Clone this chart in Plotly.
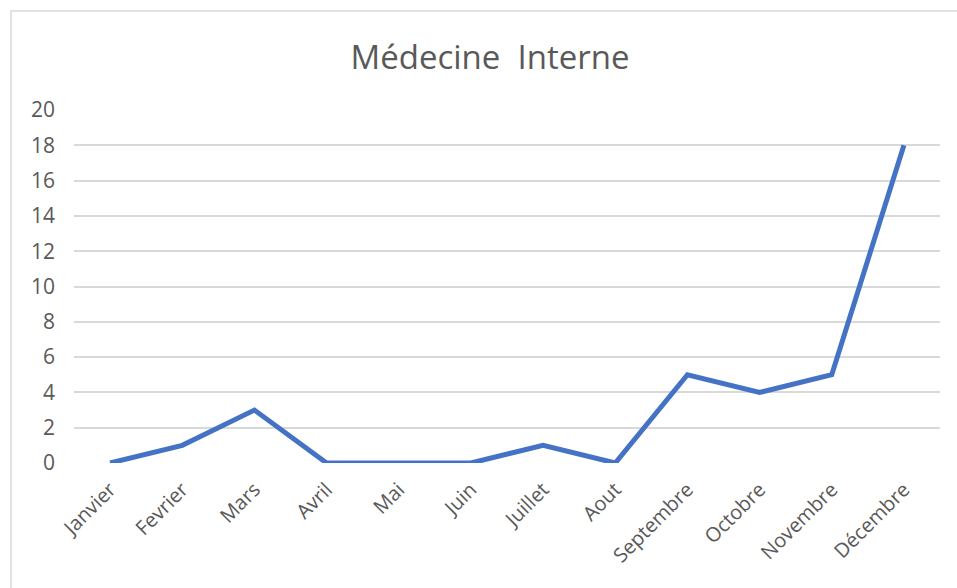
import plotly.graph_objects as go

# Monthly counts for the internal medicine department
months = ["Janvier", "Fevrier", "Mars", "Avril", "Mai", "Juin",
          "Juillet", "Aout", "Septembre", "Octobre", "Novembre", "Décembre"]
counts = [0, 1, 3, 0, 0, 0, 1, 0, 5, 4, 5, 18]
y_ticks = list(range(0, 21, 2))

W, H = 957, 588
L, R, T, B = 74, 17, 110, 125
pw, ph = W - L - R, H - T - B

fig = go.Figure()
fig.add_trace(go.Scatter(
    x=list(range(len(months))), y=counts, mode="lines",
    line=dict(color="#4472C4", width=5),
    hoverinfo="x+y", showlegend=False,
))

font = "Open Sans, Noto Sans, sans-serif"
fig.update_layout(
    width=W, height=H,
    margin=dict(l=L, r=R, t=T, b=B),
    paper_bgcolor="white", plot_bgcolor="white",
    title=dict(text="Médecine  Interne", x=490 / W, xanchor="center",
               y=1 - 57 / H, yanchor="middle",
               font=dict(family=font, size=33, color="#595959")),
    xaxis=dict(
        tickmode="array", tickvals=list(range(len(months))), ticktext=months,
        range=[-0.5, len(months) - 0.5], tickangle=-45,
        showgrid=False, zeroline=False, showline=False, ticks="",
        ticklabelstandoff=10,
        tickfont=dict(family=font, size=20, color="#595959"),
    ),
    yaxis=dict(
        range=[0, 20], tickmode="array", tickvals=y_ticks,
        showgrid=True, gridcolor="#D9D9D9", gridwidth=1.5,
        zeroline=False, showline=False, ticks="", ticklabelstandoff=18,
        tickfont=dict(family=font, size=21, color="#595959"),
    ),
    shapes=[dict(
        type="rect", xref="paper", yref="paper",
        x0=(11 - L) / pw, x1=(W + 20 - L) / pw,
        y0=-(H + 20 - T - ph) / ph, y1=1 + (T - 11) / ph,
        line=dict(color="#D9D9D9", width=1.5), layer="below",
    )],
)

fig.write_html("out.html")
